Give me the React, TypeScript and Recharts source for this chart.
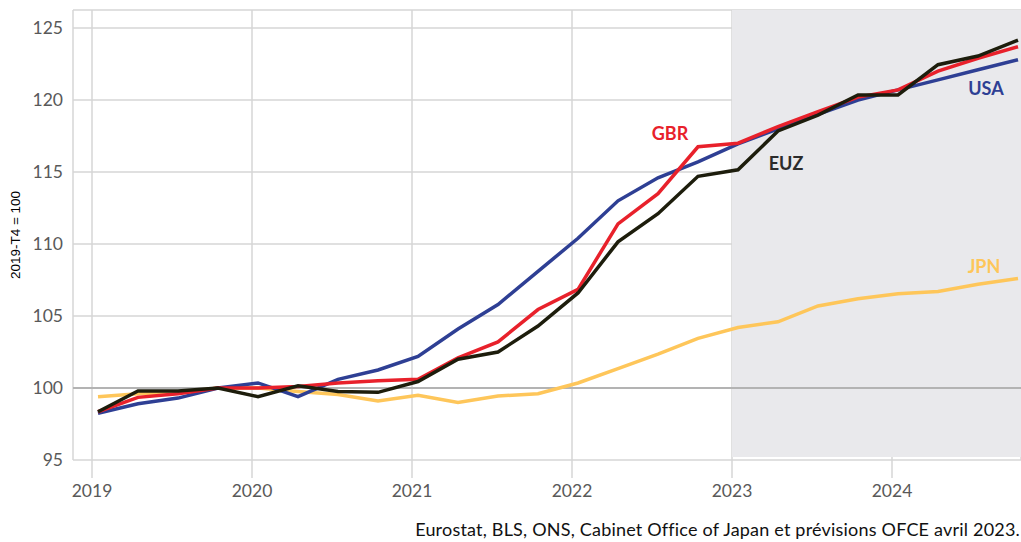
import {
  LineChart,
  Line,
  XAxis,
  YAxis,
  CartesianGrid,
  ReferenceArea,
  ReferenceLine,
  ReferenceDot,
} from 'recharts';

// Quarterly index, 2019-T1 .. 2024-T4 (2019-T4 = 100)
const QUARTERS = [
  '2019T1', '2019T2', '2019T3', '2019T4',
  '2020T1', '2020T2', '2020T3', '2020T4',
  '2021T1', '2021T2', '2021T3', '2021T4',
  '2022T1', '2022T2', '2022T3', '2022T4',
  '2023T1', '2023T2', '2023T3', '2023T4',
  '2024T1', '2024T2', '2024T3', '2024T4',
];

const USA = [
  98.25, 98.9, 99.3, 100, 100.35, 99.4, 100.6, 101.25,
  102.2, 104.1, 105.8, 108.1, 110.4, 113.0, 114.6, 115.7,
  116.95, 118.0, 119.0, 120.0, 120.7, 121.4, 122.1, 122.8,
];
const GBR = [
  98.35, 99.35, 99.6, 100, 100.0, 100.1, 100.35, 100.5,
  100.6, 102.1, 103.2, 105.45, 106.85, 111.4, 113.5, 116.75,
  117.0, 118.15, 119.2, 120.2, 120.7, 122.0, 122.9, 123.7,
];
const EUZ = [
  98.35, 99.8, 99.8, 100, 99.4, 100.15, 99.75, 99.7,
  100.45, 102.0, 102.5, 104.3, 106.6, 110.15, 112.1, 114.7,
  115.15, 117.85, 118.95, 120.35, 120.35, 122.45, 123.05, 124.15,
];
const JPN = [
  99.4, 99.6, 99.65, 100, 100.0, 99.75, 99.55, 99.1,
  99.5, 99.0, 99.45, 99.6, 100.35, 101.35, 102.35, 103.45,
  104.2, 104.6, 105.7, 106.2, 106.55, 106.7, 107.2, 107.6,
];

const YEARS = [2019, 2020, 2021, 2022, 2023, 2024];
const Y_TICKS = [95, 100, 105, 110, 115, 120, 125];
const SOURCE = 'Eurostat, BLS, ONS, Cabinet Office of Japan et prévisions OFCE avril 2023.';

// year gridlines sit a little before the first quarter of each year
const YEAR_OFFSET = -0.15;
const yearTicks = YEARS.map((_, i) => i * 4 + YEAR_OFFSET);
const FORECAST_START = 4 * 4 + YEAR_OFFSET;
const X_DOMAIN: [number, number] = [-0.625, 23.075];

const data = QUARTERS.map((q, i) => ({
  q,
  t: i,
  usa: USA[i],
  gbr: GBR[i],
  euz: EUZ[i],
  jpn: JPN[i],
}));

const COLORS = {
  usa: '#2e3f94',
  gbr: '#e8212b',
  euz: '#1d1d0c',
  jpn: '#fec65a',
};

const FONT = 'Lato, "Open Sans", sans-serif';

const seriesLabel = (text: string, color: string) => (props: any) => {
  const { viewBox } = props;
  return (
    <text
      x={viewBox.x}
      y={viewBox.y}
      fill={color}
      fontSize={18}
      fontWeight={700}
      fontFamily={FONT}
      textAnchor="middle"
      dominantBaseline="central"
    >
      {text}
    </text>
  );
};

export default function App() {
  return (
    <div style={{ position: 'absolute', left: 0, top: 0, width: 1021, height: 542, background: '#fff' }}>
      <LineChart
        width={1021}
        height={542}
        data={data}
        margin={{ top: 10, right: 0, bottom: 0, left: 0 }}
      >
        <ReferenceArea
          x1={FORECAST_START}
          x2={X_DOMAIN[1]}
          y1={95.2}
          y2={126.25}
          fill="#e9e9ec"
          fillOpacity={1}
          stroke="none"
          ifOverflow="hidden"
        />
        <CartesianGrid stroke="#d6d6d6" strokeWidth={1.5} />
        <XAxis
          dataKey="t"
          type="number"
          domain={X_DOMAIN}
          ticks={yearTicks}
          allowDataOverflow
          height={82}
          tickFormatter={(v) => String(YEARS[Math.round((v - YEAR_OFFSET) / 4)])}
          axisLine={false}
          tickLine={{ stroke: '#d6d6d6', strokeWidth: 1.5 }}
          tickSize={18}
          tickMargin={7}
          tick={{ fill: '#595959', fontSize: 17.5, fontFamily: FONT }}
        />
        <YAxis
          type="number"
          domain={[95, 126.25]}
          ticks={Y_TICKS}
          allowDataOverflow
          width={73}
          axisLine={false}
          tickLine={false}
          tickSize={0}
          tickMargin={10}
          tick={{ fill: '#595959', fontSize: 17.5, fontFamily: FONT }}
          label={(props: any) => {
            const { viewBox } = props;
            const cx = 15;
            const cy = viewBox.y + viewBox.height / 2;
            return (
              <text
                x={cx}
                y={cy}
                transform={`rotate(-90 ${cx} ${cy})`}
                textAnchor="middle"
                dominantBaseline="central"
                fontSize={13.5}
                fontFamily='"Liberation Sans", Arial, sans-serif'
                fill="#000"
              >
                2019-T4 = 100
              </text>
            );
          }}
        />
        <ReferenceLine y={100} stroke="#b3b3b3" strokeWidth={2} />
        <Line dataKey="jpn" stroke={COLORS.jpn} strokeWidth={3.5} dot={false} isAnimationActive={false} />
        <Line dataKey="usa" stroke={COLORS.usa} strokeWidth={3.5} dot={false} isAnimationActive={false} />
        <Line dataKey="gbr" stroke={COLORS.gbr} strokeWidth={3.5} dot={false} isAnimationActive={false} />
        <Line dataKey="euz" stroke={COLORS.euz} strokeWidth={3.5} dot={false} isAnimationActive={false} />
        <ReferenceDot x={14.3} y={117.7} r={0} stroke="none" label={seriesLabel('GBR', COLORS.gbr)} />
        <ReferenceDot x={17.2} y={115.6} r={0} stroke="none" label={seriesLabel('EUZ', '#2b2b2b')} />
        <ReferenceDot x={22.2} y={120.8} r={0} stroke="none" label={seriesLabel('USA', COLORS.usa)} />
        <ReferenceDot x={22.15} y={108.5} r={0} stroke="none" label={seriesLabel('JPN', COLORS.jpn)} />
      </LineChart>
      <div
        style={{
          position: 'absolute',
          right: 1,
          top: 518,
          fontSize: 18,
          letterSpacing: 0.2,
          fontFamily: FONT,
          color: '#111',
          whiteSpace: 'nowrap',
        }}
      >
        {SOURCE}
      </div>
    </div>
  );
}
